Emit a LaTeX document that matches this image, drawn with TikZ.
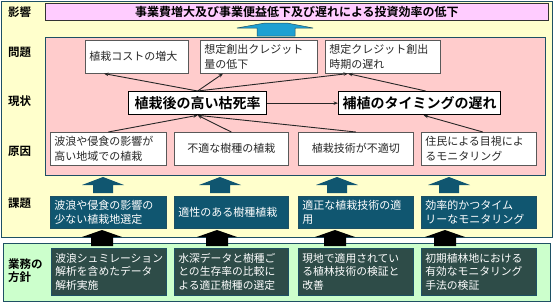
\documentclass[tikz,border=0pt]{standalone}
\usepackage{fontspec}
\setmainfont{Noto Sans CJK JP}[BoldFont={Noto Sans CJK JP Bold}]
\usetikzlibrary{arrows.meta}
\definecolor{ybg}{HTML}{FFFFCC}
\definecolor{pinkbg}{HTML}{FFCCCC}
\definecolor{purplebg}{HTML}{FFCCFF}
\definecolor{greenbg}{HTML}{CCFFCC}
\definecolor{frame}{RGB}{30,80,100}
\definecolor{teal}{RGB}{16,86,112}
\definecolor{slate}{RGB}{46,76,72}
\definecolor{ltblue}{RGB}{30,160,210}
\definecolor{txt}{RGB}{40,40,40}
\begin{document}
\begin{tikzpicture}[x=1pt,y=-1pt,
  every node/.style={inner sep=0pt},
  body/.style={font=\fontsize{11}{14.5}\selectfont},
  lab/.style={font=\bfseries\fontsize{11.5}{14}\selectfont, anchor=west, align=left},
  wbox/.style={body, draw=gray!70!black, fill=white, line width=0.6pt, text=txt,
    anchor=north west, inner xsep=4pt, minimum height=33pt, align=left},
  kbox/.style={font=\bfseries\fontsize{14}{16}\selectfont, draw=black, fill=white,
    line width=1.3pt, anchor=north west, minimum height=23pt, align=center},
  tbox/.style={body, draw=frame, fill=teal, text=white, line width=0.6pt,
    anchor=north west, inner xsep=4pt, minimum height=32pt, align=left},
  sbox/.style={body, draw=frame, fill=slate, text=white, line width=0.6pt,
    anchor=north west, inner xsep=4pt, minimum height=47pt, align=left},
  conn/.style={-{Stealth[length=4.5pt,width=3.5pt]}, line width=0.9pt, black!85}
]
\useasboundingbox (0,0) rectangle (555,303);
% backgrounds
\fill[white] (0,0) rectangle (555,303);
\draw[frame, fill=ybg, line width=1pt] (1,1) rectangle (552,237);
\draw[frame, fill=greenbg, line width=1pt] (3,243) rectangle (550,301);
% top effect box
\node[draw=black!80, fill=purplebg, line width=0.8pt, minimum width=503pt, minimum height=17pt,
  anchor=north west, font=\bfseries\fontsize{12}{14}\selectfont] (top) at (45,3)
  {事業費増大及び事業便益低下及び遅れによる投資効率の低下};
% light blue arrow
\filldraw[fill=ltblue, draw=frame, line width=0.5pt]
  (265,23) -- (287,23) -- (313,28) -- (295,28) -- (295,36) -- (257,36) -- (257,28) -- (237,28) -- cycle;
% pink region
\draw[frame, fill=pinkbg, line width=0.8pt] (45,37) rectangle (545,175);
% labels
\node[lab] (l1) at (8,12) {影響};
\node[lab] (l2) at (8,52) {問題};
\node[lab] (l3) at (8,101) {現状};
\node[lab] (l4) at (8,151) {原因};
\node[lab] (l5) at (8,203) {課題};
\node[lab, font=\bfseries\fontsize{11.5}{13}\selectfont] (l6) at (8,271) {業務の\\方針};
% problem boxes
\node[wbox, text width=95pt] (b1) at (85,40) {植栽コストの増大};
\node[wbox, text width=109pt] (b2) at (200,40) {想定創出クレジット\\量の低下};
\node[wbox, text width=107pt] (b3) at (325,40) {想定クレジット創出\\時期の遅れ};
% current state
\node[kbox, minimum width=138pt] (k1) at (128,91) {植栽後の高い枯死率};
\node[kbox, minimum width=162pt] (k2) at (338,91) {補植のタイミングの遅れ};
% causes
\node[wbox, text width=108pt] (c1) at (50,132) {波浪や侵食の影響が\\高い地域での植栽};
\node[wbox, text width=106pt, align=center] (c2) at (174,132) {不適な樹種の植栽};
\node[wbox, text width=107pt, align=center] (c3) at (298,132) {植栽技術が不適切};
\node[wbox, text width=107pt] (c4) at (421,132) {住民による目視によ\\るモニタリング};
% connectors
\draw[conn] (k1.east) -- (k2.west);
\draw[conn] (k1.north) -- ([xshift=19pt]b1.south west);
\draw[conn] (k1.north) -- ([xshift=23pt]b2.south west);
\draw[conn] (k1.north) -- ([xshift=23pt]b3.south west);
\draw[conn] ([xshift=6pt]k2.north) -- ([xshift=23pt]b3.south west);
\draw[conn] (c1.north) -- (k1.south);
\draw[conn] (c2.north) -- (k1.south);
\draw[conn] (c3.north) -- (k1.south);
\draw[conn] ([xshift=4pt]c4.north) -- ([xshift=4pt]k2.south);
% blue block arrows
\foreach \cx in {103,220,337,449}{
  \fill[teal] (\cx,177) -- (\cx+21,185) -- (\cx+10,185) -- (\cx+10,193) -- (\cx-10,193) -- (\cx-10,185) -- (\cx-21,185) -- cycle;
}
% tasks
\node[tbox, text width=108pt] (d1) at (50,196) {波浪や侵食の影響の\\少ない植栽地選定};
\node[tbox, text width=106pt] (d2) at (174,196) {適性のある樹種植栽};
\node[tbox, text width=107pt] (d3) at (298,196) {適正な植栽技術の適\\用};
\node[tbox, text width=107pt] (d4) at (421,196) {効率的かつタイム\\リーなモニタリング};
% black block arrows
\foreach \cx in {102,217,335,445}{
  \fill[black] (\cx,230) -- (\cx+20,237) -- (\cx+11,237) -- (\cx+11,246) -- (\cx-11,246) -- (\cx-11,237) -- (\cx-20,237) -- cycle;
}
% policies
\node[sbox, text width=107pt, font=\fontsize{10.8}{13.5}\selectfont] (e1) at (51,248) {波浪シュミレーション\\解析を含めたデータ\\解析実施};
\node[sbox, text width=106pt, font=\fontsize{10.8}{13.5}\selectfont] (e2) at (174,248) {水深データと樹種ご\\との生存率の比較に\\よる適正樹種の選定};
\node[sbox, text width=107pt, font=\fontsize{10.8}{13.5}\selectfont] (e3) at (298,248) {現地で適用されてい\\る植林技術の検証と\\改善};
\node[sbox, text width=107pt, font=\fontsize{10.8}{13.5}\selectfont] (e4) at (421,248) {初期植林地における\\有効なモニタリング\\手法の検証};
\end{tikzpicture}
\end{document}
